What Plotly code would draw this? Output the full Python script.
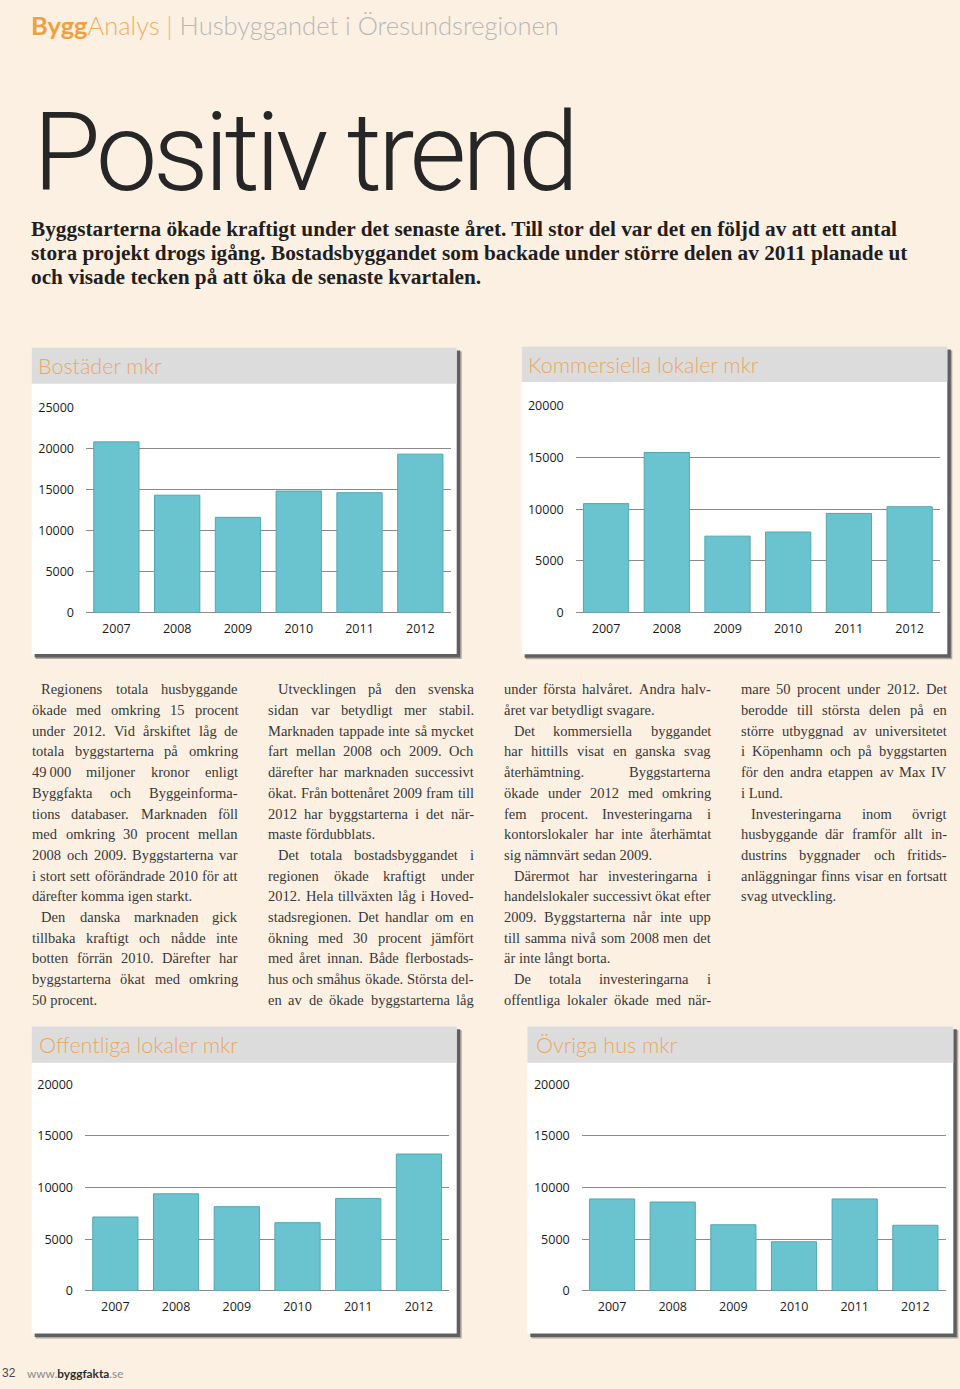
import plotly.graph_objects as go

W, H = 960, 1389


def X(px):
    return px / W


def Y(py):
    return 1 - py / H


# ---------------- data ----------------
years = ["2007", "2008", "2009", "2010", "2011", "2012"]
bostader = [20800, 14300, 11600, 14800, 14600, 19300]
kommersiella = [10550, 15500, 7400, 7800, 9600, 10250]
offentliga = [7150, 9400, 8150, 6600, 8950, 13250]
ovriga = [8900, 8600, 6400, 4750, 8900, 6350]

chart_titles = ["Bostäder mkr", "Kommersiella lokaler mkr", "Offentliga lokaler mkr", "Övriga hus mkr"]
chart_values = [bostader, kommersiella, offentliga, ovriga]
chart_ymax = [25000, 20000, 20000, 20000]
ytick_step = 5000

header_brand_bold = "Bygg"
header_brand = "Analys"
header_rest = "Husbyggandet i Öresundsregionen"
main_title = "Positiv trend"
intro_lines = [
    "Byggstarterna ökade kraftigt under det senaste året. Till stor del var det en följd av att ett antal",
    "stora projekt drogs igång. Bostadsbyggandet som backade under större delen av 2011 planade ut",
    "och visade tecken på att öka de senaste kvartalen.",
]

body_columns = [
    [
        ["Regionens totala husbyggande",
         "ökade med omkring 15 procent",
         "under 2012. Vid årskiftet låg de",
         "totala byggstarterna på omkring",
         "49\u2009000 miljoner kronor enligt",
         "Byggfakta och Byggeinforma-",
         "tions databaser. Marknaden föll",
         "med omkring 30 procent mellan",
         "2008 och 2009. Byggstarterna var",
         "i stort sett oförändrade 2010 för att",
         "därefter komma igen starkt."],
        ["Den danska marknaden gick",
         "tillbaka kraftigt och nådde inte",
         "botten förrän 2010. Därefter har",
         "byggstarterna ökat med omkring",
         "50 procent."],
    ],
    [
        ["Utvecklingen på den svenska",
         "sidan var betydligt mer stabil.",
         "Marknaden tappade inte så mycket",
         "fart mellan 2008 och 2009. Och",
         "därefter har marknaden successivt",
         "ökat. Från bottenåret 2009 fram till",
         "2012 har byggstarterna i det när-",
         "maste fördubblats."],
        ["Det totala bostadsbyggandet i",
         "regionen ökade kraftigt under",
         "2012. Hela tillväxten låg i Hoved-",
         "stadsregionen. Det handlar om en",
         "ökning med 30 procent jämfört",
         "med året innan. Både flerbostads-",
         "hus och småhus ökade. Största del-",
         "en av de ökade byggstarterna låg"],
    ],
    [
        ["under första halvåret. Andra halv-",
         "året var betydligt svagare."],
        ["Det kommersiella byggandet",
         "har hittills visat en ganska svag",
         "återhämtning. Byggstarterna",
         "ökade under 2012 med omkring",
         "fem procent. Investeringarna i",
         "kontorslokaler har inte återhämtat",
         "sig nämnvärt sedan 2009."],
        ["Därermot har investeringarna i",
         "handelslokaler successivt ökat efter",
         "2009. Byggstarterna når inte upp",
         "till samma nivå som 2008 men det",
         "är inte långt borta."],
        ["De totala investeringarna i",
         "offentliga lokaler ökade med när-"],
    ],
    [
        ["mare 50 procent under 2012. Det",
         "berodde till största delen på en",
         "större utbyggnad av universitetet",
         "i Köpenhamn och på byggstarten",
         "för den andra etappen av Max IV",
         "i Lund."],
        ["Investeringarna inom övrigt",
         "husbyggande där framför allt in-",
         "dustrins byggnader och fritids-",
         "anläggningar finns visar en fortsatt",
         "svag utveckling."],
    ],
]
col_continues_from_prev = [False, False, True, True]
col_continues_to_next = [False, True, True, False]

page_number = "32"

# ---------------- style / layout ----------------
BG = "#fcf0e2"
BAR = "#6ac4cf"
BAR_EDGE = "#52a6b3"
GRID = "#8a8a8a"
TITLE_ORANGE = "#e9a862"

panels = [
    dict(box=(31.7, 342.7, 456.7, 653.0), bar_b=379.3, plot=(86.0, 450.7, 403.3, 611.0), tx=37.5),
    dict(box=(521.7, 341.7, 947.3, 653.3), bar_b=377.7, plot=(575.7, 940.0, 402.0, 611.0), tx=527.5),
    dict(box=(31.7, 1030.0, 456.7, 1341.0), bar_b=1066.7, plot=(85.0, 449.3, 1088.7, 1297.7), tx=38.5),
    dict(box=(527.3, 1030.0, 953.3, 1341.0), bar_b=1066.7, plot=(581.7, 945.7, 1088.7, 1297.7), tx=535.5),
]

fig = go.Figure()
shapes = []
annotations = []

for i, p in enumerate(panels):
    n = i + 1
    fig.add_trace(go.Bar(
        x=years, y=chart_values[i], xaxis=f"x{n}", yaxis=f"y{n}",
        marker=dict(color=BAR, line=dict(color=BAR_EDGE, width=1)),
        showlegend=False, hoverinfo="skip",
    ))
    x0, x1, yt, yb = p["plot"]
    fig.layout[f"xaxis{n}"] = dict(
        domain=[X(x0), X(x1)], anchor=f"y{n}", type="category", range=[-0.5, 5.5],
        showgrid=False, zeroline=False, showline=False, ticks="",
        tickfont=dict(family="Open Sans", size=12.5, color="#1a1a1a"),
        ticklabelstandoff=7, fixedrange=True,
    )
    fig.layout[f"yaxis{n}"] = dict(
        domain=[Y(yb), Y(yt)], anchor=f"x{n}", range=[0, chart_ymax[i]],
        tickvals=list(range(0, chart_ymax[i] + 1, ytick_step)), tickformat="d",
        showgrid=True, gridcolor=GRID, gridwidth=1.4,
        zeroline=True, zerolinecolor=GRID, zerolinewidth=1.4,
        showline=False, ticks="",
        tickfont=dict(family="Open Sans", size=12.5, color="#1a1a1a"),
        ticklabelstandoff=11, fixedrange=True,
    )
    l, t, r, b = p["box"]
    # soft shadow
    shapes.append(dict(type="rect", xref="paper", yref="paper", layer="below",
                       x0=X(l + 4), x1=X(r + 5), y0=Y(b + 5), y1=Y(t + 4),
                       fillcolor="#b0aaa3", line=dict(width=0)))
    shapes.append(dict(type="rect", xref="paper", yref="paper", layer="below",
                       x0=X(l + 3), x1=X(r + 3.5), y0=Y(b + 3.5), y1=Y(t + 3),
                       fillcolor="#5f5f5f", line=dict(width=0)))
    shapes.append(dict(type="rect", xref="paper", yref="paper", layer="below",
                       x0=X(l), x1=X(r), y0=Y(b), y1=Y(t),
                       fillcolor="white", line=dict(width=0)))
    shapes.append(dict(type="rect", xref="paper", yref="paper", layer="below",
                       x0=X(l), x1=X(r), y0=Y(p["bar_b"]), y1=Y(t),
                       fillcolor="#dcdcdc", line=dict(width=0)))
    annotations.append(dict(
        text=chart_titles[i], xref="paper", yref="paper",
        x=X(p["tx"]), y=Y((t + p["bar_b"]) / 2 + 0.5), xanchor="left", yanchor="middle",
        showarrow=False, borderpad=0, borderwidth=0,
        font=dict(family="Lato", size=21.5, color=TITLE_ORANGE, weight=300),
    ))

# header
annotations.append(dict(
    text=(f'<span style="color:#efa23c"><b>{header_brand_bold}</b></span>'
          f'<span style="color:#f1ae62">{header_brand} | </span>'
          f'<span style="color:#b8b8b8">{header_rest}</span>'),
    xref="paper", yref="paper", x=X(31), y=Y(16.5), xanchor="left", yanchor="middle",
    showarrow=False, borderpad=0, borderwidth=0,
    font=dict(family="Lato", size=25.5, weight=300),
))

# main title
annotations.append(dict(
    text=f'<span style="letter-spacing:-4.4px">{main_title}</span>',
    xref="paper", yref="paper", x=X(33), y=Y(145), xanchor="left", yanchor="middle",
    showarrow=False, borderpad=0, borderwidth=0,
    font=dict(family="Roboto", size=110, color="#262626", weight=300),
))

# intro
for k, line in enumerate(intro_lines):
    annotations.append(dict(
        text=f"<b>{line}</b>", xref="paper", yref="paper",
        x=X(31), y=Y(223 + 24 * k), xanchor="left", yanchor="middle",
        showarrow=False, borderpad=0, borderwidth=0,
        font=dict(family="Liberation Serif", size=21.3, color="#1f1f1f"),
    ))

# body text, justified with Times metrics (Liberation Serif is metric compatible)
TR = {' ': 250, 'a': 444, 'b': 500, 'c': 444, 'd': 500, 'e': 444, 'f': 333, 'g': 500, 'h': 500,
      'i': 278, 'j': 278, 'k': 500, 'l': 278, 'm': 778, 'n': 500, 'o': 500, 'p': 500, 'q': 500,
      'r': 333, 's': 389, 't': 278, 'u': 500, 'v': 500, 'w': 722, 'x': 500, 'y': 500, 'z': 444,
      'A': 722, 'B': 667, 'C': 667, 'D': 722, 'E': 611, 'F': 556, 'G': 722, 'H': 722, 'I': 333,
      'J': 389, 'K': 722, 'L': 611, 'M': 889, 'N': 722, 'O': 722, 'P': 556, 'Q': 722, 'R': 667,
      'S': 556, 'T': 611, 'U': 722, 'V': 722, 'W': 944, 'X': 722, 'Y': 722, 'Z': 611,
      '.': 250, ',': 250, '-': 333, 'å': 444, 'ä': 444, 'ö': 500, 'Ö': 722, 'Ä': 722, 'Å': 722,
      'é': 444, '\u2009': 167}
BODY_SIZE = 14.5


def tw(s):
    return sum(TR.get(c, 500) for c in s) / 1000 * BODY_SIZE


col_geom = [(32, 41, 238), (268, 277.5, 474), (504, 514, 711), (740.5, 750.5, 947)]
body_font = dict(family="Liberation Serif", size=BODY_SIZE, color="#383838")
LINE0, LSTEP = 688.8, 20.95

for ci, col in enumerate(body_columns):
    left, ind, right = col_geom[ci]
    li = 0
    for pi, para in enumerate(col):
        for k, line in enumerate(para):
            first = k == 0 and not (pi == 0 and col_continues_from_prev[ci])
            last = k == len(para) - 1 and not (pi == len(col) - 1 and col_continues_to_next[ci])
            x0 = ind if first else left
            yy = Y(LINE0 + li * LSTEP)
            words = line.split(" ")
            if last or len(words) < 2:
                annotations.append(dict(text=line, xref="paper", yref="paper", x=X(x0), y=yy,
                                        xanchor="left", yanchor="middle", showarrow=False,
                                        borderpad=0, borderwidth=0, font=body_font))
            else:
                widths = [tw(w) for w in words]
                gap = (right - x0 - sum(widths)) / (len(words) - 1)
                pos = x0
                for wi, w in enumerate(words):
                    if wi == len(words) - 1:
                        annotations.append(dict(text=w, xref="paper", yref="paper", x=X(right), y=yy,
                                                xanchor="right", yanchor="middle", showarrow=False,
                                                borderpad=0, borderwidth=0, font=body_font))
                    else:
                        annotations.append(dict(text=w, xref="paper", yref="paper", x=X(pos), y=yy,
                                                xanchor="left", yanchor="middle", showarrow=False,
                                                borderpad=0, borderwidth=0, font=body_font))
                    pos += widths[wi] + gap
            li += 1

# footer
annotations.append(dict(text=page_number, xref="paper", yref="paper", x=X(1.5), y=Y(1381),
                        xanchor="left", yanchor="middle", showarrow=False, borderpad=0, borderwidth=0,
                        font=dict(family="Liberation Sans", size=12, color="#4a4a4a")))
annotations.append(dict(
    text='<span style="color:#8a8a8a">www.</span><b><span style="color:#2e2e2e">byggfakta</span></b><span style="color:#8a8a8a">.se</span>',
    xref="paper", yref="paper", x=X(26.5), y=Y(1381), xanchor="left", yanchor="middle",
    showarrow=False, borderpad=0, borderwidth=0,
    font=dict(family="Lato", size=11.8)))

fig.update_layout(
    width=W, height=H, margin=dict(l=0, r=0, t=0, b=0),
    paper_bgcolor=BG, plot_bgcolor="white",
    bargap=0.255, showlegend=False,
    shapes=shapes, annotations=annotations,
)

fig.write_html("out.html", config={"displayModeBar": False},
               post_script="document.body.style.margin='0';document.body.style.overflow='hidden';")
